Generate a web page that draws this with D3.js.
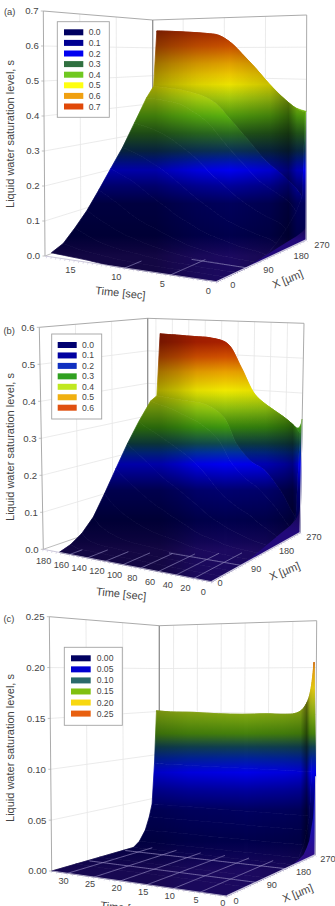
<!DOCTYPE html>
<html>
<head>
<meta charset="utf-8">
<script src="https://cdn.jsdelivr.net/npm/d3@7/dist/d3.min.js"></script>
<style>
html,body{margin:0;padding:0;background:#fff;overflow:hidden}
svg{display:block}
text{font-family:"Liberation Sans",Arial,sans-serif;fill:#454545}
</style>
</head>
<body>
<svg id="fig" width="335" height="906"></svg>
<script>
// ---- Panel (a): 18 s transient
const timesA = [0,0.8,2.4,4.4,6,7.7,8.9,10.5,12,14,16,18];
const depthA = [0,30,60,90,120,150,180,210,240,258,266,270];
const satA = [
 [0,0,0,0,.002,.01,.03,.06,.10,.14,.40,.40],
 [0,0,0,.001,.003,.015,.04,.075,.125,.165,.405,.405],
 [0,0,0,.001,.004,.02,.05,.09,.15,.20,.434,.42],
 [0,0,0,.002,.006,.03,.065,.115,.18,.24,.484,.44],
 [0,0,.001,.004,.012,.04,.08,.14,.22,.285,.532,.48],
 [0,0,.002,.008,.02,.055,.105,.175,.265,.335,.58,.52],
 [0,.001,.004,.012,.03,.07,.125,.20,.30,.37,.613,.55],
 [0,.002,.008,.02,.045,.09,.155,.24,.35,.415,.641,.58],
 [.001,.004,.012,.03,.06,.115,.185,.27,.38,.437,.648,.60],
 [.006,.009,.02,.045,.085,.15,.22,.305,.41,.452,.653,.62],
 [.009,.015,.035,.07,.12,.185,.25,.33,.42,.459,.657,.63],
 [.012,.026,.06,.10,.152,.21,.27,.345,.425,.464,.66,.64]
];
const skirtA = [0,0,0,.002,.005,.01,.015,.02,.025,.03,.035,.04];
const timeTicksA = [0,5,10,15];
const levelTicksA = [0,.1,.2,.3,.4,.5,.6,.7];
const legendLabelsA = ["0.0","0.1","0.2","0.3","0.4","0.5","0.6","0.7"];
const legendColorsA = ["#000060","#000092","#0000f0","#307040","#70c820","#ffff10","#f0a010","#e04808"];
const bandLevelsA = [0,.02,.06,.15,.2,.245,.275,.3,.35,.4,.45,.49,.55,.6,.66];
const bandColorsA = ["#1c0a60","#120658","#00004c","#00005c","#00009a","#0000f0","#001aa0","#0a3058","#2a6a20","#5ab010","#b0d810","#f4ea00","#e0a000","#c85000","#9c1c00"];
const shadeTimesA = [0,0.8,1.8,4,9,13,16,18];
const shadeLevelsA = [0,.05,.38,.15,0,.08,.2,.3];
const wallFadeA = [.34,.52];

// ---- Panel (b): 180 s transient
const timesB = [0,4,20,40,56,73,90,111,130,150,165,172];
const depthB = [0,30,60,90,120,150,180,210,240,256,264,270];
const satB = [
 [0,0,0,0,.001,.002,.005,.012,.03,.05,.285,.325],
 [0,0,0,0,.001,.003,.008,.018,.04,.064,.30,.30],
 [0,0,0,.001,.002,.005,.015,.04,.085,.125,.33,.31],
 [0,0,0,.001,.003,.01,.03,.07,.13,.178,.359,.34],
 [0,0,.001,.002,.005,.02,.045,.09,.155,.198,.39,.37],
 [0,0,.001,.003,.01,.03,.065,.12,.195,.241,.466,.44],
 [0,.001,.002,.005,.02,.05,.095,.165,.26,.32,.534,.50],
 [0,.001,.003,.008,.03,.075,.13,.21,.30,.352,.549,.52],
 [0,.001,.004,.012,.045,.10,.16,.24,.32,.358,.551,.53],
 [0,.002,.006,.025,.07,.135,.20,.27,.34,.362,.553,.53],
 [0,.004,.015,.045,.10,.165,.23,.29,.35,.366,.554,.535],
 [0,.01,.03,.064,.12,.182,.245,.303,.356,.368,.555,.54]
];
const skirtB = [0,0,0,.002,.006,.012,.02,.028,.036,.045,.055,.07];
const timeTicksB = [0,20,40,60,80,100,120,140,160,180];
const levelTicksB = [0,.1,.2,.3,.4,.5,.6];
const legendLabelsB = ["0.0","0.1","0.2","0.3","0.4","0.5","0.6"];
const legendColorsB = ["#000070","#0000a0","#1030c0","#30a020","#c0e820","#f0b010","#e05010"];
const bandLevelsB = [0,.02,.08,.16,.195,.23,.262,.285,.33,.38,.43,.48,.52,.56];
const bandColorsB = ["#1c0a60","#120658","#00004c","#000070","#0000b0","#0000f0","#0030a0","#104a50","#3c9410","#94c810","#f0e800","#e8a000","#d05000","#a82000"];
const shadeTimesB = [0,6,16,40,90,125,150,172];
const shadeLevelsB = [0,.3,.2,.05,0,.05,.2,.3];
const wallFadeB = [.27,.42];

// ---- Panel (c): 33 s transient
const timesC = [0,.6,1.25,2.5,4,6,10,15,20,25,30,33];
const depthC = [0,60,120,180,205,220,235,245,252,258,263,270];
const satC = [
 [0,0,0,0,0,.005,.016,.03,.044,.09,.206,.084],
 [0,0,0,0,0,.005,.016,.03,.044,.09,.178,.10],
 [0,0,0,0,0,.005,.016,.03,.044,.09,.165,.13],
 [0,0,0,0,0,.005,.016,.03,.044,.09,.155,.145],
 [0,0,0,0,0,.005,.016,.03,.044,.09,.151,.145],
 [0,0,0,0,0,.005,.016,.03,.044,.09,.150,.145],
 [0,0,0,0,0,.005,.016,.03,.044,.09,.150,.145],
 [0,0,0,0,0,.005,.016,.03,.044,.09,.149,.145],
 [0,0,0,0,0,.005,.016,.03,.044,.09,.149,.145],
 [0,0,0,0,0,.005,.016,.03,.044,.09,.150,.145],
 [0,0,0,0,0,.005,.016,.03,.044,.09,.150,.145],
 [0,0,0,0,0,.005,.016,.03,.044,.09,.151,.145]
];
const skirtC = [0,0,0,0,.001,.003,.006,.012,.018,.03,.04,.084];
const timeTicksC = [0,5,10,15,20,25,30];
const levelTicksC = [0,.05,.10,.15,.20,.25];
const legendLabelsC = ["0.00","0.05","0.10","0.15","0.20","0.25"];
const legendColorsC = ["#000060","#0000d0","#2a6a6a","#80c010","#f8d810","#e86010"];
const bandLevelsC = [0,.01,.03,.06,.08,.097,.11,.122,.135,.15,.165,.18,.195,.21];
const bandColorsC = ["#1c0a60","#120658","#00004c","#000060","#0000a0","#0000e8","#0020a0","#104050","#44800c","#74a010","#a8b418","#e0c410","#e0a010","#c85810"];
const shadeTimesC = [0,.5,1.2,2.5,6,14,26,33];
const shadeLevelsC = [0,.05,.45,.1,.05,0,.05,.15];
const wallFadeC = [.1,.1];

const depthTicks = [0,90,180,270];

// Screen layout of each box: floor corners, top corners, label placement.
const panels = [
 {tag:"(a)", tagAt:[4,15], times:timesA, depth:depthA, sat:satA, skirt:skirtA,
  timeMax:18.7, levelMax:.7, timeTicks:timeTicksA, levelTicks:levelTicksA, levelFmt:".1f",
  legendLabels:legendLabelsA, legendColors:legendColorsA, wallFade:wallFadeA, wallStrip:9,
  bandLevels:bandLevelsA, bandColors:bandColorsA, shadeTimes:shadeTimesA, shadeLevels:shadeLevelsA,
  F:[216.7,281.7], L:[45,256], R:[306,240], B:[152.7,215], LT:[43.3,11], BT:[152.7,20], RT:[306.7,15],
  timeOff:[-8.5,9], depthOff:[[16,3.3],[22,2],[25,2],[16,5]],
  titleY:[10.5,134], timeTitle:[120,293], depthTitle:[289,279],
  box:[57.3,21.7,52,95.6], swatch:[64,19.3], rows:[32.3,10.6], labelX:88.7},
 {tag:"(b)", tagAt:[3.5,334], times:timesB, depth:depthB, sat:satB, skirt:skirtB,
  timeMax:190, levelMax:.6, timeTicks:timeTicksB, levelTicks:levelTicksB, levelFmt:".1f",
  legendLabels:legendLabelsB, legendColors:legendColorsB, wallFade:wallFadeB, wallStrip:9,
  bandLevels:bandLevelsB, bandColors:bandColorsB, shadeTimes:shadeTimesB, shadeLevels:shadeLevelsB,
  F:[211.7,581.7], L:[43.3,549.3], R:[300,532.7], B:[147.7,513.3], LT:[39.3,327.3], BT:[147.7,318.3], RT:[304,323.3],
  timeOff:[-8.5,10], depthOff:[[8.3,1],[15,3],[16,1.7],[14,4]],
  titleY:[10.5,447], timeTitle:[120.7,594], depthTitle:[286,571],
  box:[51.7,334,50,85], swatch:[57.7,19], rows:[345,10.45], labelX:82},
 {tag:"(c)", tagAt:[3.5,622], times:timesC, depth:depthC, sat:satC, skirt:skirtC,
  timeMax:33, levelMax:.25, timeTicks:timeTicksC, levelTicks:levelTicksC, levelFmt:".2f",
  legendLabels:legendLabelsC, legendColors:legendColorsC, wallFade:wallFadeC, wallStrip:9,
  bandLevels:bandLevelsC, bandColors:bandColorsC, shadeTimes:shadeTimesC, shadeLevels:shadeLevelsC,
  F:[226.7,896], L:[51.7,871], R:[315,855], B:[159.3,840], LT:[49.3,616.7], BT:[159.3,625.7], RT:[316.7,620.7],
  timeOff:[-4,7.2], depthOff:[[9.3,4.7],[15.7,2.7],[18,3],[13,3.3]],
  titleY:[10.5,748], timeTitle:[125,908], depthTitle:[299,893],
  box:[64.3,647.3,58,78], swatch:[71,19.7], rows:[658.3,11.06], labelX:96.7}
];

const svg = d3.select("#fig");
const defs = svg.append("defs");
const wallGrid = "#e6e6e6", frameColor = "#ababab", edgeColor = "#c9c5dc";

panels.forEach((p, idx) => drawPanel(p, idx));

function drawPanel(p, idx) {
  const timeScale = d3.scaleLinear().domain([0, p.timeMax]).range([0, 1]);
  const depthScale = d3.scaleLinear().domain([0, 270]).range([0, 1]);
  const levelScale = d3.scaleLinear().domain([0, p.levelMax]).range([0, 1]);
  const axisY = d3.scaleLinear().domain([0, p.levelMax]).range([p.L[1], p.LT[1]]);
  const axisX = d3.scaleLinear().domain([0, p.levelMax]).range([p.L[0], p.LT[0]]);
  const lastTime = p.times[p.times.length-1];

  // The unseen top corner above the front of the floor completes the box.
  const hL = p.L[1]-p.LT[1], hR = p.R[1]-p.RT[1], hB = p.B[1]-p.BT[1];
  const FT = [p.F[0], p.F[1]-(hL+hR-hB)];

  const bilerp = (u, v, a, b, c, d) => [0,1].map(i =>
    (1-u)*(1-v)*a[i] + u*(1-v)*b[i] + (1-u)*v*c[i] + u*v*d[i]);

  // Time runs from the front corner to the left one, depth from the front to the right.
  function project(t, x, s) {
    const u = timeScale(t), v = depthScale(x), w = levelScale(s);
    const base = bilerp(u, v, p.F, p.L, p.R, p.B);
    const top = bilerp(u, v, FT, p.LT, p.RT, p.BT);
    return [base[0]+(top[0]-base[0])*w, base[1]+(top[1]-base[1])*w];
  }

  // Saturation lookup used to hide floor grid lines under the raised sheet.
  function satAt(t, x) {
    const i = Math.min(d3.bisectRight(p.times, t)-1, p.times.length-2);
    const j = Math.min(d3.bisectRight(p.depth, x)-1, p.depth.length-2);
    const a = (t-p.times[i])/(p.times[i+1]-p.times[i]);
    const b = (x-p.depth[j])/(p.depth[j+1]-p.depth[j]);
    const near = d3.interpolateNumber(p.sat[i][j], p.sat[i+1][j])(a);
    const far = d3.interpolateNumber(p.sat[i][j+1], p.sat[i+1][j+1])(a);
    return d3.interpolateNumber(near, far)(b);
  }

  const g = svg.append("g");
  const poly = d3.line();

  // Height colouring runs along the value axis, in screen space.
  const surfId = "surf"+idx;
  const grad = defs.append("linearGradient").attr("id", surfId)
    .attr("gradientUnits","userSpaceOnUse").attr("x1",0).attr("x2",0)
    .attr("y1",axisY(0)).attr("y2",axisY(p.levelMax));
  p.bandLevels.forEach((lv,i) => grad.append("stop")
    .attr("offset", levelScale(lv)).attr("stop-color", p.bandColors[i]));

  const skirtId = "skirt"+idx;
  const skirtGrad = defs.append("linearGradient").attr("id", skirtId)
    .attr("gradientUnits","userSpaceOnUse").attr("x1",0).attr("x2",0)
    .attr("y1",project(0,270,0)[1]).attr("y2",project(0,270,d3.max(p.skirt))[1]);
  const skirtStops = idx===2 ? [[0,"#2c0c88"],[.45,"#1410b8"],[1,"#0808d8"]] : [[0,"#22097a"],[1,"#14084e"]];
  skirtStops.forEach(s => skirtGrad.append("stop").attr("offset",s[0]).attr("stop-color",s[1]));

  // Wall gridlines
  const wallG = g.append("g").attr("fill","none").attr("stroke",wallGrid).attr("stroke-width",.8);
  p.levelTicks.slice(1,-1).forEach(lv => {
    wallG.append("path").attr("d",poly([project(p.timeMax,0,lv),project(p.timeMax,270,lv),project(0,270,lv)]));
  });
  depthTicks.slice(1,-1).forEach(x => {
    wallG.append("path").attr("d",poly([project(p.timeMax,x,0),project(p.timeMax,x,p.levelMax)]));
  });
  p.timeTicks.slice(1).forEach(t => {
    if (t < p.timeMax) wallG.append("path").attr("d",poly([project(t,270,0),project(t,270,p.levelMax)]));
  });

  // Box frame behind the surface
  const frame = g.append("g").attr("fill","none").attr("stroke",frameColor).attr("stroke-width",1);
  frame.append("path").attr("d",poly([p.L,p.LT,p.BT,p.RT,p.R]));
  frame.append("path").attr("d",poly([p.L,p.B])).attr("stroke","#bdbdbd");
  frame.append("path").attr("d",poly([p.BT,p.B])).attr("stroke","#8f8f8f").attr("stroke-width",1.3);

  // Surface outline: one strip per depth interval, gathered into a single mask
  // so the height colouring and shading paint over it without seams.
  const smooth = d3.line().curve(d3.curveCatmullRom.alpha(.5));
  const column = j => p.times.map((t,i) => project(t,p.depth[j],p.sat[i][j]));
  const stripPath = j => {
    const a = smooth(column(j));
    const b = smooth(column(j+1).reverse());
    return a+"L"+b.slice(1)+"Z";
  };
  const stripPaths = d3.range(p.depth.length-1).map(stripPath);
  const frontWall = "M"+p.depth.map((x,j) => project(0,x,p.sat[0][j]).join(",")).join("L")
    +"L"+project(0,270,0).join(",")+"L"+project(0,0,0).join(",")+"Z";

  const maskId = "sheet"+idx;
  const mask = defs.append("mask").attr("id",maskId).attr("maskUnits","userSpaceOnUse")
    .attr("x",0).attr("y",0).attr("width",335).attr("height",906);
  mask.selectAll("path").data(stripPaths.concat([frontWall])).join("path").attr("d",d=>d)
    .attr("fill","#fff").attr("stroke","#fff").attr("stroke-width",.7);

  const paintSheet = fill => g.append("rect").attr("x",0).attr("y",p.LT[1]-2)
    .attr("width",335).attr("height",p.F[1]-p.LT[1]+4)
    .attr("fill",fill).attr("mask","url(#"+maskId+")");
  paintSheet("url(#"+surfId+")");

  // Step wall between the two layers, dimmer toward its foot
  const fadeId = "fade"+idx;
  const fade = defs.append("linearGradient").attr("id",fadeId)
    .attr("gradientUnits","userSpaceOnUse").attr("x1",0).attr("x2",0)
    .attr("y1",axisY(p.wallFade[0])).attr("y2",axisY(p.wallFade[1]));
  fade.append("stop").attr("offset",0).attr("stop-color","#000").attr("stop-opacity",.22);
  fade.append("stop").attr("offset",1).attr("stop-color","#000").attr("stop-opacity",0);
  g.append("path").attr("d",stripPath(p.wallStrip)).attr("fill","url(#"+fadeId+")");

  // Soft darkening along the time direction
  const shadeId = "shade"+idx;
  const sx0 = project(0,262,0)[0], sx1 = project(lastTime,262,0)[0];
  const shade = defs.append("linearGradient").attr("id",shadeId)
    .attr("gradientUnits","userSpaceOnUse").attr("x1",sx0).attr("x2",sx1).attr("y1",0).attr("y2",0);
  p.shadeTimes.forEach((t,i) => shade.append("stop")
    .attr("offset",(project(t,262,0)[0]-sx0)/(sx1-sx0))
    .attr("stop-color","#000").attr("stop-opacity",p.shadeLevels[i]));
  paintSheet("url(#"+shadeId+")");

  // Lit lower part of the end face at time zero
  const skirtPath = "M"+p.depth.map((x,j) => project(0,x,p.skirt[j]).join(",")).join("L")
    +"L"+project(0,270,0).join(",")+"L"+project(0,0,0).join(",")+"Z";
  g.append("path").attr("d",skirtPath).attr("fill","url(#"+skirtId+")");

  // Floor grid, only where the sheet still lies on the floor
  const floorLine = d3.line().defined(d => d.show).x(d => d.pt[0]).y(d => d.pt[1]);
  const eps = .0045;
  const floorG = g.append("g").attr("fill","none").attr("stroke",idx===2?"#8f86bc":"#8c84b8")
    .attr("stroke-opacity",.9).attr("stroke-width",.8);
  p.timeTicks.slice(1).filter(t => t <= lastTime).forEach(t => {
    const pts = d3.range(0,271,3).map(x => ({pt:project(t,x,0), show:satAt(t,x)<eps}));
    floorG.append("path").attr("d",floorLine(pts));
  });
  depthTicks.slice(1,-1).forEach(x => {
    const pts = d3.range(0,lastTime,lastTime/90).map(t => ({pt:project(t,x,0), show:satAt(t,x)<eps}));
    floorG.append("path").attr("d",floorLine(pts));
  });

  // Right upright, front edges and their tick marks
  g.append("path").attr("d",poly([project(0,270,0),project(0,270,p.sat[0][p.depth.length-1])]))
    .attr("fill","none").attr("stroke",edgeColor).attr("stroke-width",1);
  g.append("path").attr("d",poly([p.F,p.R])).attr("fill","none").attr("stroke",edgeColor).attr("stroke-width",1.4);
  g.append("path").attr("d",poly([p.F,p.L])).attr("fill","none").attr("stroke","#bfbbd2").attr("stroke-width",.8);
  g.append("g").attr("stroke",edgeColor).attr("stroke-width",.6)
    .selectAll("line").data(depthScale.ticks(27)).join("line")
    .attr("x1",x=>project(0,x,0)[0]).attr("y1",x=>project(0,x,0)[1])
    .attr("x2",x=>project(0,x,0)[0]+1.5).attr("y2",x=>project(0,x,0)[1]+1.6);
  g.append("g").attr("stroke",edgeColor).attr("stroke-width",.6)
    .selectAll("line").data(timeScale.ticks(30)).join("line")
    .attr("x1",t=>project(t,0,0)[0]).attr("y1",t=>project(t,0,0)[1])
    .attr("x2",t=>project(t,0,0)[0]-.6).attr("y2",t=>project(t,0,0)[1]+2);

  // Value axis
  const valueAxis = g.append("g");
  valueAxis.selectAll("line").data(p.levelTicks).join("line")
    .attr("x1",d=>axisX(d)-2.5).attr("x2",d=>axisX(d)).attr("y1",d=>axisY(d)).attr("y2",d=>axisY(d))
    .attr("stroke",frameColor).attr("stroke-width",.7);
  valueAxis.selectAll("text").data(p.levelTicks).join("text")
    .attr("x",d=>axisX(d)-4.8).attr("y",d=>axisY(d)+3.4)
    .attr("text-anchor","end").attr("font-size",9.6).text(d=>d3.format(p.levelFmt)(d));

  // Time and depth tick labels
  g.append("g").selectAll("text").data(p.timeTicks).join("text")
    .attr("x",t=>project(t,0,0)[0]+p.timeOff[0]).attr("y",t=>project(t,0,0)[1]+p.timeOff[1]+3.2)
    .attr("text-anchor","middle").attr("font-size",9.2).text(t=>t);
  g.append("g").selectAll("text").data(depthTicks).join("text")
    .attr("x",(x,i)=>project(0,x,0)[0]+p.depthOff[i][0]).attr("y",(x,i)=>project(0,x,0)[1]+p.depthOff[i][1]+3.2)
    .attr("text-anchor","middle").attr("font-size",9.2).text(x=>x);

  // Titles
  g.append("text").attr("x",p.tagAt[0]).attr("y",p.tagAt[1]).attr("font-size",9.4).text(p.tag);
  g.append("text").attr("transform",`translate(${p.titleY[0]+3.6},${p.titleY[1]}) rotate(-90)`)
    .attr("text-anchor","middle").attr("font-size",11).text("Liquid water saturation level, s");
  g.append("text").attr("transform",`translate(${p.timeTitle[0]},${p.timeTitle[1]+3.6}) rotate(6)`)
    .attr("text-anchor","middle").attr("font-size",11).text("Time [sec]");
  g.append("text").attr("transform",`translate(${p.depthTitle[0]},${p.depthTitle[1]+3.6}) rotate(-22)`)
    .attr("text-anchor","middle").attr("font-size",11).text("X [µm]");

  // Legend
  const lg = g.append("g");
  lg.append("rect").attr("x",p.box[0]).attr("y",p.box[1]).attr("width",p.box[2]).attr("height",p.box[3])
    .attr("fill","#fff").attr("stroke","#a3a3a3").attr("stroke-width",.9);
  const rowY = i => p.rows[0]+i*p.rows[1];
  lg.selectAll("rect.sw").data(p.legendLabels).join("rect").attr("class","sw")
    .attr("x",p.swatch[0]).attr("y",(d,i)=>rowY(i)-3).attr("width",p.swatch[1]).attr("height",6)
    .attr("fill",(d,i)=>p.legendColors[i]);
  lg.selectAll("text").data(p.legendLabels).join("text")
    .attr("x",p.labelX).attr("y",(d,i)=>rowY(i)+3).attr("font-size",8.6).text(d=>d);
}
</script>
</body>
</html>
